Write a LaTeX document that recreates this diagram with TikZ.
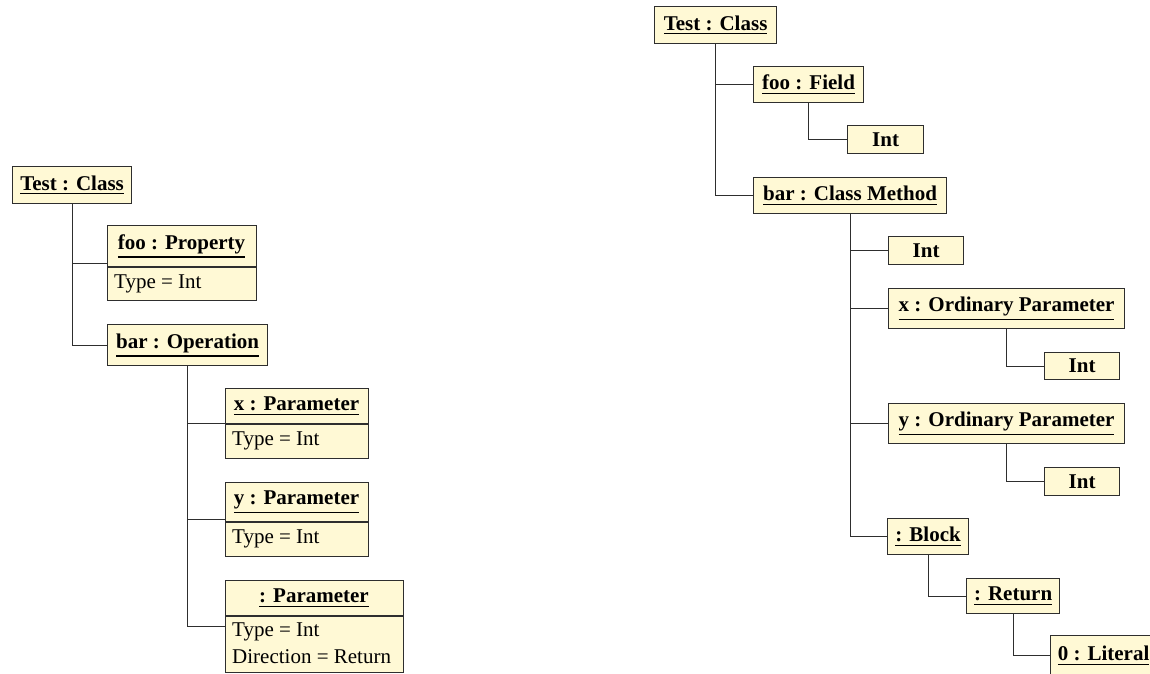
\documentclass[tikz,border=0pt]{standalone}
\usepackage{fontspec}
\setmainfont{Liberation Serif}
\definecolor{objfill}{HTML}{FFF9D5}
\definecolor{linec}{HTML}{2E2E2E}
% underlined object name: rule sits below the text's own depth
\newcommand\objname[1]{\leavevmode\vtop{\hbox{#1}\kern2.6pt\hrule height 1.3pt}}
\newcommand\objfont{\fontsize{21}{25}\selectfont}
\begin{document}
\begin{tikzpicture}[x=1pt,y=-1pt,
  obj/.style={draw=linec, fill=objfill, line width=1.2pt, inner sep=0pt,
    anchor=north west, font=\objfont\bfseries},
  boxsize/.style 2 args={minimum width=#1pt, minimum height=#2pt},
  ttl/.style={inner sep=0pt, font=\objfont\bfseries},
  attr/.style={inner sep=0pt, anchor=west, font=\objfont},
  divider/.style={draw=linec, line width=1.2pt},
  link/.style={draw=linec, line width=1.2pt}]
\useasboundingbox (0,0) rectangle (1150,673);
\clip (0,0) rectangle (1150,673);

% ---------------- UML object view ----------------
\node[obj, boxsize={119}{37}] (LT) at (12,166) {\objname{Test : Class}};

\node[obj, boxsize={149}{75}] (Lfoo) at (107,225) {};
\node[ttl] (LfooT) at (181.5,246) {\objname{foo : Property}};
\draw[divider] ([yshift=-42pt]Lfoo.north west) -- ([yshift=-42pt]Lfoo.north east);
\node[attr] (LfooA) at (114,283.5) {Type = Int};

\node[obj, boxsize={160}{41}] (Lbar) at (107,324) {\objname{bar : Operation}};

\node[obj, boxsize={143}{70}] (Lx) at (225,388) {};
\node[ttl] (LxT) at (296.5,406) {\objname{x : Parameter}};
\draw[divider] ([yshift=-36pt]Lx.north west) -- ([yshift=-36pt]Lx.north east);
\node[attr] (LxA) at (232,441) {Type = Int};

\node[obj, boxsize={143}{74}] (Ly) at (225,482) {};
\node[ttl] (LyT) at (296.5,502) {\objname{y : Parameter}};
\draw[divider] ([yshift=-40pt]Ly.north west) -- ([yshift=-40pt]Ly.north east);
\node[attr] (LyA) at (232,539) {Type = Int};

\node[obj, boxsize={178}{91.5}] (Lr) at (225,580) {};
\node[ttl] (LrT) at (314,598) {\objname{: Parameter}};
\draw[divider] ([yshift=-36pt]Lr.north west) -- ([yshift=-36pt]Lr.north east);
\node[attr] (LrA) at (232,632) {Type = Int};
\node[attr] (LrB) at (232,657) {Direction = Return};

\draw[link] (LT.south) |- (Lfoo.west);
\draw[link] (LT.south) |- (Lbar.west);
\draw[link] (Lbar.south) |- (Lx.west);
\draw[link] (Lbar.south) |- (Ly.west);
\draw[link] (Lbar.south) |- (Lr.west);

% ---------------- syntax tree view ----------------
\node[obj, boxsize={122}{37}] (RT) at (654,6) {\objname{Test : Class}};
\node[obj, boxsize={110}{36}] (Rfoo) at (753,66) {\objname{foo : Field}};
\node[obj, boxsize={76}{28}] (RfooI) at (847,125) {Int};
\node[obj, boxsize={193}{36}] (Rbar) at (753,177) {\objname{bar : Class Method}};
\node[obj, boxsize={75}{28}] (RbarI) at (888,236) {Int};
\node[obj, boxsize={236}{40}] (Rx) at (888,288) {\objname{x : Ordinary Parameter}};
\node[obj, boxsize={75}{27}] (RxI) at (1044,352) {Int};
\node[obj, boxsize={236}{40}] (Ry) at (888,403) {\objname{y : Ordinary Parameter}};
\node[obj, boxsize={75}{28}] (RyI) at (1044,467) {Int};
\node[obj, boxsize={81}{36}] (Rblk) at (887,518) {\objname{: Block}};
\node[obj, boxsize={93}{35}] (Rret) at (966,578) {\objname{: Return}};
\node[obj, boxsize={106}{40}] (Rlit) at (1050,635) {\objname{0 : Literal}};

\draw[link] (RT.south) |- (Rfoo.west);
\draw[link] (RT.south) |- (Rbar.west);
\draw[link] (Rfoo.south) |- (RfooI.west);
\draw[link] (Rbar.south) |- (RbarI.west);
\draw[link] (Rbar.south) |- (Rx.west);
\draw[link] (Rbar.south) |- (Ry.west);
\draw[link] (Rbar.south) |- (Rblk.west);
\draw[link] (Rx.south) |- (RxI.west);
\draw[link] (Ry.south) |- (RyI.west);
\draw[link] (Rblk.south) |- (Rret.west);
\draw[link] (Rret.south) |- (Rlit.west);
\end{tikzpicture}
\end{document}
